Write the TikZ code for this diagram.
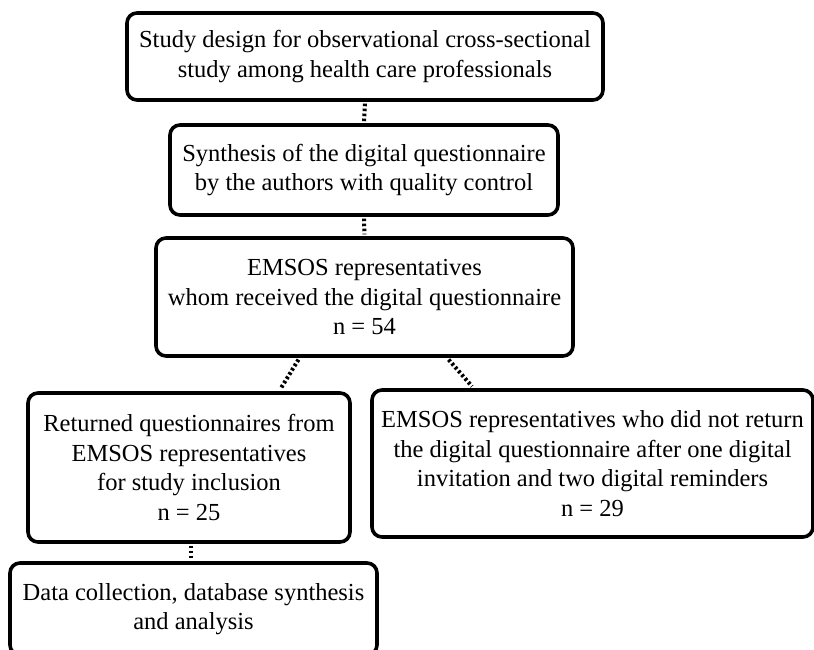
\documentclass[tikz,border=0pt]{standalone}
\usepackage{fontspec}
\setmainfont{Liberation Serif}
\usetikzlibrary{calc}
\begin{document}
\begin{tikzpicture}[x=1pt,y=-1pt,
  box/.style={draw=black, line width=3.6pt, rounded corners=10pt, align=center, inner sep=0pt,
    font=\fontsize{24.5}{29.5}\selectfont},
  link/.style={draw=black, line width=4pt, dash pattern=on 2.6pt off 2.4pt}]
\useasboundingbox (0,0) rectangle (814,649);
\node[box, minimum width=476pt, minimum height=87pt] (b1) at (365,56.5)
  {Study design for observational cross-sectional\\study among health care professionals};
\node[box, minimum width=388pt, minimum height=90pt] (b2) at (364,170)
  {Synthesis of the digital questionnaire\\by the authors with quality control};
\node[box, minimum width=417pt, minimum height=118pt] (b3) at (364.5,297)
  {EMSOS representatives\\whom received the digital questionnaire\\n = 54};
\node[box, minimum width=322pt, minimum height=149pt] (b4) at (189,467.5)
  {Returned questionnaires from\\EMSOS representatives\\for study inclusion\\n = 25};
\node[box, minimum width=441pt, minimum height=147pt] (b5) at (592.5,463.5)
  {EMSOS representatives who did not return\\the digital questionnaire after one digital\\invitation and two digital reminders\\n = 29};
\node[box, minimum width=367pt, minimum height=92pt] (b6) at (193.5,609)
  {Data collection, database synthesis\\and analysis};
\draw[link] (b1.south) ++(0,1.8) -- ($(b2.north)+(0,-1.8)$);
\draw[link] ($(b2.south)+(0,1.8)$) -- ($(b3.north)+(0,-1.8)$);
\draw[link] ($(b3.south west)!0.343!(b3.south east)+(0,1.8)$) -- ($(b4.north west)!0.78!(b4.north east)+(0,-1.8)$);
\draw[link] ($(b3.south west)!0.70!(b3.south east)+(0,1.8)$) -- ($(b5.north west)!0.229!(b5.north east)+(0,-1.8)$);
\draw[link] ($(b4.south)+(2,1.8)$) -- ($(b4.south |- b6.north)+(2,-1.8)$);
\end{tikzpicture}
\end{document}
